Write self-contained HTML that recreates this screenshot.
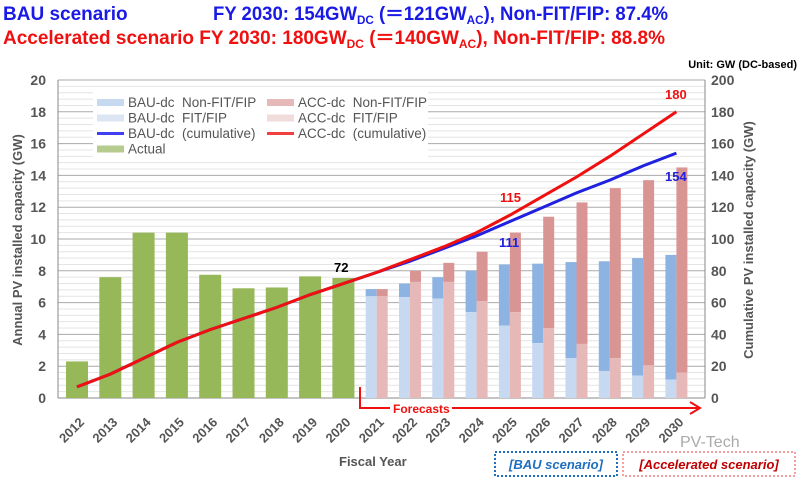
<!DOCTYPE html>
<html><head><meta charset="utf-8"><style>
body{margin:0;background:#fff;width:800px;height:481px;overflow:hidden;font-family:"Liberation Sans",Arial,sans-serif}
</style></head><body>
<svg id="s" width="800" height="481" xmlns="http://www.w3.org/2000/svg" font-family="Liberation Sans, Arial, sans-serif">
<text x="3" y="20" font-size="19" font-weight="bold" fill="#1a1ae6">BAU scenario</text>
<text x="213" y="20" font-size="19" font-weight="bold" fill="#1a1ae6" textLength="455" lengthAdjust="spacingAndGlyphs">FY 2030: 154GW<tspan font-size="12" dy="4">DC</tspan><tspan dy="-4"> (＝121GW</tspan><tspan font-size="12" dy="4">AC</tspan><tspan dy="-4">), Non-FIT/FIP: 87.4%</tspan></text>
<text x="3" y="44" font-size="19" font-weight="bold" fill="#f01010" textLength="662" lengthAdjust="spacingAndGlyphs">Accelerated scenario FY 2030: 180GW<tspan font-size="12" dy="4">DC</tspan><tspan dy="-4"> (＝140GW</tspan><tspan font-size="12" dy="4">AC</tspan><tspan dy="-4">), Non-FIT/FIP: 88.8%</tspan></text>
<text x="797" y="68" font-size="11" font-weight="bold" text-anchor="end" fill="#000">Unit: GW (DC-based)</text>
<g id="g"></g>
</svg>
<script>
const g=document.getElementById('g');let h='';
const Y=v=>398-v*15.9, X=i=>77+33.3*i;
for(let v=0;v<=20;v+=0.4){const y=Y(v);const maj=Math.abs(v/2-Math.round(v/2))<0.01;h+=`<line x1="58" x2="705" y1="${y}" y2="${y}" stroke="${maj?'#aaa':'#e4e4e4'}" stroke-width="1"/>`;}
h+=`<line x1="58" x2="58" y1="80" y2="398" stroke="#888"/><line x1="705" x2="705" y1="80" y2="398" stroke="#888"/><line x1="58" x2="705" y1="398" y2="398" stroke="#888"/>`;
for(let v=0;v<=20;v+=2){h+=`<text x="46" y="${Y(v)+5}" font-size="14" font-weight="bold" fill="#555" text-anchor="end">${v}</text><text x="711" y="${Y(v)+5}" font-size="14" font-weight="bold" fill="#555">${v*10}</text>`;}
const green=[2.3,7.6,10.4,10.4,7.75,6.9,6.95,7.65,7.55];
green.forEach((v,i)=>{h+=`<rect x="${X(i)-11}" y="${Y(v)}" width="22" height="${v*15.9}" fill="#96b858"/>`});
const bau=[[6.85,6.4],[7.2,6.35],[7.6,6.25],[8.0,5.4],[8.4,4.55],[8.45,3.45],[8.55,2.5],[8.6,1.7],[8.8,1.4],[9.0,1.15]];
const acc=[[6.85,6.4],[8.0,7.3],[8.5,7.3],[9.2,6.1],[10.4,5.4],[11.4,4.4],[12.3,3.4],[13.2,2.5],[13.7,2.05],[14.5,1.6]];
for(let k=0;k<10;k++){const c=X(9+k);
 let [t,f]=bau[k];h+=`<rect x="${c-11}" y="${Y(t)}" width="11" height="${(t-f)*15.9}" fill="#8db3e2"/><rect x="${c-11}" y="${Y(f)}" width="11" height="${f*15.9}" fill="#c6d9f1"/>`;
 [t,f]=acc[k];h+=`<rect x="${c}" y="${Y(t)}" width="11" height="${(t-f)*15.9}" fill="#d99594"/><rect x="${c}" y="${Y(f)}" width="11" height="${f*15.9}" fill="#e6b9b8"/>`;}
const cum=[7,15,25,35,43,50,57,65,72,79];
const cb=cum.concat([86,94,102,111,120,129,137,146,154]);
const cr=cum.concat([87,95,104,115,127,139,152,166,180]);
const R=v=>398-v*1.59;
h+=`<polyline fill="none" stroke="#2020e0" stroke-width="3" points="${cb.map((v,i)=>X(i)+','+R(v)).join(' ')}"/>`;
h+=`<polyline fill="none" stroke="#f01010" stroke-width="3" points="${cr.map((v,i)=>X(i)+','+R(v)).join(' ')}"/>`;
h+=`<text x="334" y="272" font-size="13" font-weight="bold">72</text><text x="500" y="202" font-size="13" font-weight="bold" fill="#f01010">115</text><text x="499" y="247" font-size="13" font-weight="bold" fill="#2020e0">111</text><text x="665" y="99" font-size="13" font-weight="bold" fill="#f01010">180</text><text x="665" y="181" font-size="13" font-weight="bold" fill="#2020e0">154</text>`;
for(let i=0;i<19;i++){const x=X(i)+8,y=423;h+=`<text x="${x}" y="${y}" font-size="13" font-weight="bold" fill="#555" text-anchor="end" transform="rotate(-45 ${x} ${y})">${2012+i}</text>`;}
h+=`<path d="M360,387 V408 H390 M452,408 H698" fill="none" stroke="#f01010" stroke-width="2"/><path d="M690,402 L700,408 L690,414" fill="none" stroke="#f01010" stroke-width="2"/><rect x="390" y="400" width="62" height="15" fill="#fff"/><text x="393" y="413" font-size="12" font-weight="bold" fill="#f01010">Forecasts</text>`;
h+=`<text x="339" y="466" font-size="13" font-weight="bold" fill="#555">Fiscal Year</text>`;
h+=`<text transform="translate(22 240) rotate(-90)" font-size="13" font-weight="bold" fill="#555" text-anchor="middle">Annual PV installed capacity (GW)</text>`;
h+=`<text transform="translate(753 240) rotate(-90)" font-size="13" font-weight="bold" fill="#555" text-anchor="middle">Cumulative PV installed capacity (GW)</text>`;
h+=`<rect x="495" y="452" width="122" height="24" fill="none" stroke="#1f6fc0" stroke-width="2" stroke-dasharray="2 2"/><text x="556" y="469" font-size="13" font-weight="bold" font-style="italic" fill="#1f6fc0" text-anchor="middle">[BAU scenario]</text>`;
h+=`<rect x="623" y="452" width="172" height="24" fill="none" stroke="#f4a0a0" stroke-width="2" stroke-dasharray="2 2"/><text x="709" y="469" font-size="13" font-weight="bold" font-style="italic" fill="#c00000" text-anchor="middle">[Accelerated scenario]</text>`;
h+=`<text x="680" y="447" font-size="16" fill="#aaa">PV-Tech</text>`;
h+=`<rect x="93" y="92" width="335" height="66" fill="#fff"/>`;
const L=[[97,'#c6d9f1','rect','BAU-dc  Non-FIT/FIP',0],[97,'#dce6f2','rect','BAU-dc  FIT/FIP',1],[97,'#4040f0','line','BAU-dc  (cumulative)',2],[97,'#b5cc8e','rect','Actual',3],
[267,'#e6b9b8','rect','ACC-dc  Non-FIT/FIP',0],[267,'#f0dcdb','rect','ACC-dc  FIT/FIP',1],[267,'#f04040','line','ACC-dc  (cumulative)',2]];
L.forEach(([x,c,t,s,r])=>{const y=102+r*15.5;h+=t=='rect'?`<rect x="${x}" y="${y-3}" width="27" height="7" fill="${c}"/>`:`<rect x="${x}" y="${y-1}" width="27" height="3" fill="${c}"/>`;h+=`<text x="${x+31}" y="${y+5}" font-size="13.5" fill="#555" xml:space="preserve">${s}</text>`});
g.innerHTML=h;
</script>
</body></html>
